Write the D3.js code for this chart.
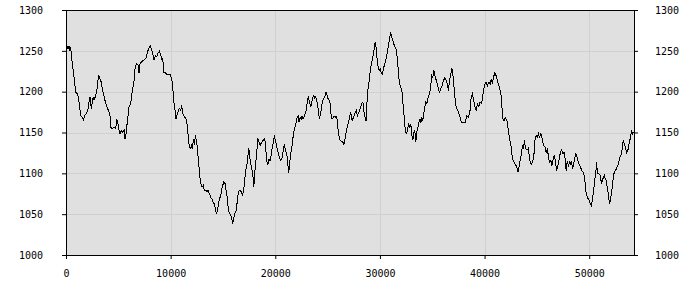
<!DOCTYPE html>
<html lang="en">
<head>
<meta charset="UTF-8">
<title>Series chart</title>
<script src="https://d3js.org/d3.v7.min.js"></script>
<style>
    body { margin: 0; background: #fff; }
    .tick text { font-family: "DejaVu Sans Mono", monospace; font-size: 10px; fill: #000; }
</style>
</head>
<body>
<script>

// x positions (sample number) and values
const xs = [
    0, 140, 240, 330, 400, 550, 720, 880, 1040, 1130, 1260, 1360, 1510, 1610, 1740, 1930, 2060, 2150, 2250, 2370,
    2470, 2560, 2630, 2790, 2890, 2950, 3080, 3200, 3330, 3420, 3580, 3710, 3840, 3900, 4000, 4160, 4230, 4380, 4540, 4700,
    4800, 4920, 5020, 5120, 5240, 5370, 5500, 5590, 5690, 5820, 5980, 6140, 6290, 6460, 6550, 6680, 6840, 6930, 7030, 7150,
    7340, 7570, 7670, 7790, 7990, 8110, 8240, 8370, 8490, 8630, 8750, 8870, 9010, 9100, 9200, 9290, 9445, 9580, 9895, 10060,
    10150, 10210, 10280, 10370, 10470, 10590, 10780, 10920, 11010, 11110, 11230, 11420, 11550, 11640, 11740, 11870, 11970, 12060, 12120, 12220,
    12310, 12450, 12540, 12640, 12730, 12830, 12950, 13080, 13170, 13310, 13400, 13530, 13650, 13790, 13910, 14030, 14130, 14230, 14320, 14420,
    14550, 14670, 14770, 14890, 15030, 15150, 15250, 15370, 15470, 15560, 15700, 15790, 15890, 15980, 16080, 16200, 16330, 16420, 16590, 16710,
    16840, 16900, 17000, 17090, 17230, 17320, 17420, 17540, 17670, 17800, 17900, 17990, 18090, 18180, 18280, 18400, 18500, 18660, 18810, 18950,
    19040, 19140, 19230, 19360, 19450, 19550, 19670, 19770, 19870, 19960, 20100, 20220, 20340, 20480, 20600, 20730, 20820, 20920, 21050, 21150,
    21240, 21340, 21430, 21560, 21650, 21750, 21840, 21940, 22040, 22130, 22230, 22320, 22420, 22510, 22610, 22730, 22870, 22960, 23020, 23120,
    23210, 23350, 23440, 23540, 23630, 23730, 23820, 23920, 24040, 24170, 24300, 24430, 24550, 24680, 24810, 24900, 25000, 25100, 25190, 25290,
    25380, 25480, 25570, 25670, 25760, 25860, 25950, 26050, 26150, 26270, 26400, 26500, 26600, 26690, 26790, 26910, 27040, 27170, 27290, 27420,
    27580, 27700, 27800, 27930, 28060, 28220, 28320, 28440, 28540, 28630, 28700, 28790, 28920, 29010, 29140, 29270, 29400, 29490, 29590, 29660,
    29780, 29880, 29970, 30070, 30190, 30290, 30420, 30540, 30670, 30760, 30860, 30990, 31090, 31180, 31280, 31380, 31500, 31620, 31720, 31820,
    31950, 32050, 32140, 32240, 32330, 32430, 32520, 32620, 32710, 32810, 32910, 33000, 33100, 33190, 33290, 33380, 33480, 33580, 33670, 33770,
    33860, 33960, 34050, 34150, 34240, 34340, 34440, 34530, 34630, 34720, 34820, 34910, 35010, 35110, 35200, 35300, 35390, 35510, 35640, 35770,
    35900, 36020, 36160, 36280, 36400, 36500, 36600, 36730, 36830, 36920, 37020, 37110, 37210, 37300, 37400, 37490, 37590, 37690, 37780, 37930,
    38090, 38260, 38410, 38570, 38670, 38790, 38890, 39020, 39150, 39270, 39410, 39530, 39660, 39750, 39850, 39980, 40110, 40230, 40360, 40490,
    40580, 40710, 40800, 40940, 41060, 41180, 41320, 41440, 41570, 41660, 41800, 41920, 42020, 42140, 42240, 42370, 42490, 42620, 42710, 42850,
    42970, 43070, 43160, 43260, 43350, 43480, 43570, 43670, 43770, 43860, 44000, 44120, 44220, 44310, 44440, 44570, 44690, 44790, 44880, 45010,
    45100, 45200, 45330, 45460, 45580, 45720, 45840, 45960, 46060, 46160, 46290, 46380, 46510, 46600, 46730, 46820, 46920, 47050, 47180, 47300,
    47440, 47560, 47660, 47750, 47850, 47970, 48070, 48160, 48260, 48350, 48450, 48550, 48680, 48770, 48870, 48990, 49120, 49250, 49380, 49470,
    49570, 49660, 49790, 49880, 50020, 50140, 50240, 50360, 50460, 50590, 50650, 50750, 50880, 51000, 51130, 51260, 51390, 51480, 51580, 51670,
    51800, 51890, 51990, 52120, 52220, 52310, 52440, 52560, 52660, 52750, 52850, 52980, 53080, 53200, 53300, 53390, 53520, 53650, 53770, 53900,
    53990, 54090, 54220
];
const values = [
    1259, 1253, 1257, 1251, 1255, 1235, 1218, 1200, 1198, 1194, 1182, 1171, 1169, 1166, 1171, 1175, 1180, 1188, 1194, 1180,
    1188, 1194, 1190, 1196, 1200, 1210, 1221, 1216, 1212, 1204, 1196, 1188, 1184, 1180, 1178, 1171, 1157, 1155, 1157, 1155,
    1167, 1161, 1153, 1149, 1153, 1151, 1154, 1143, 1149, 1165, 1182, 1186, 1202, 1214, 1229, 1235, 1233, 1224, 1235, 1237,
    1239, 1241, 1245, 1251, 1257, 1253, 1247, 1239, 1245, 1243, 1248, 1250, 1245, 1240, 1241, 1224, 1224, 1222, 1222, 1216,
    1206, 1196, 1186, 1178, 1167, 1174, 1180, 1178, 1184, 1174, 1171, 1167, 1159, 1145, 1133, 1131, 1135, 1131, 1143, 1135,
    1147, 1139, 1125, 1112, 1098, 1088, 1084, 1086, 1080, 1080, 1078, 1080, 1076, 1071, 1069, 1065, 1063, 1057, 1051, 1055,
    1065, 1071, 1076, 1084, 1090, 1088, 1080, 1071, 1055, 1053, 1049, 1045, 1039, 1045, 1051, 1055, 1067, 1078, 1080, 1078,
    1073, 1080, 1086, 1102, 1110, 1120, 1131, 1118, 1108, 1100, 1084, 1102, 1114, 1126, 1144, 1139, 1135, 1139, 1141, 1143,
    1131, 1116, 1111, 1118, 1116, 1122, 1133, 1139, 1147, 1141, 1133, 1126, 1120, 1116, 1120, 1129, 1137, 1129, 1125, 1112,
    1101, 1114, 1125, 1135, 1145, 1153, 1157, 1163, 1169, 1171, 1163, 1169, 1167, 1171, 1167, 1171, 1175, 1182, 1192, 1194,
    1188, 1182, 1188, 1194, 1196, 1192, 1194, 1190, 1180, 1167, 1175, 1186, 1192, 1194, 1200, 1196, 1192, 1190, 1186, 1171,
    1167, 1169, 1171, 1169, 1171, 1167, 1155, 1145, 1141, 1140, 1139, 1136, 1141, 1149, 1155, 1161, 1169, 1175, 1165, 1169,
    1175, 1178, 1171, 1175, 1180, 1186, 1188, 1175, 1169, 1165, 1184, 1202, 1214, 1224, 1235, 1243, 1253, 1261, 1255, 1243,
    1231, 1227, 1229, 1224, 1222, 1229, 1235, 1241, 1249, 1257, 1265, 1273, 1267, 1263, 1259, 1256, 1253, 1241, 1224, 1210,
    1206, 1202, 1188, 1174, 1159, 1151, 1149, 1157, 1161, 1157, 1161, 1147, 1141, 1151, 1153, 1139, 1151, 1157, 1163, 1167,
    1163, 1169, 1165, 1174, 1182, 1188, 1186, 1192, 1196, 1200, 1210, 1220, 1218, 1227, 1220, 1216, 1212, 1206, 1200, 1204,
    1208, 1214, 1218, 1214, 1210, 1202, 1214, 1222, 1229, 1222, 1208, 1194, 1184, 1180, 1178, 1174, 1171, 1165, 1163, 1163,
    1163, 1171, 1169, 1178, 1194, 1198, 1192, 1182, 1178, 1186, 1182, 1188, 1186, 1192, 1202, 1210, 1212, 1208, 1212, 1210,
    1216, 1210, 1218, 1224, 1220, 1214, 1208, 1202, 1194, 1169, 1165, 1169, 1167, 1163, 1151, 1141, 1133, 1118, 1116, 1112,
    1110, 1106, 1102, 1110, 1116, 1125, 1135, 1131, 1141, 1131, 1129, 1131, 1122, 1114, 1112, 1116, 1126, 1145, 1147, 1145,
    1149, 1145, 1149, 1143, 1135, 1133, 1126, 1131, 1120, 1114, 1116, 1110, 1118, 1122, 1116, 1104, 1108, 1116, 1125, 1129,
    1125, 1126, 1118, 1104, 1116, 1110, 1114, 1112, 1116, 1106, 1110, 1118, 1125, 1122, 1116, 1112, 1108, 1104, 1102, 1098,
    1088, 1076, 1071, 1069, 1065, 1061, 1067, 1078, 1090, 1102, 1114, 1100, 1100, 1098, 1088, 1094, 1098, 1094, 1092, 1084,
    1073, 1063, 1069, 1080, 1092, 1100, 1104, 1106, 1110, 1112, 1120, 1122, 1129, 1141, 1137, 1133, 1126, 1129, 1137, 1145,
    1153, 1149, 1151
];
const xTicks = [0, 10000, 20000, 30000, 40000, 50000];
const yTicks = [1000, 1050, 1100, 1150, 1200, 1250, 1300];

const data = xs.map((x, i) => ({ x: x, v: values[i] }));

const margin = { top: 10, left: 66, right: 66, bottom: 45 };
const width = 568, height = 245;

const svg = d3.select('body').append('svg')
    .attr('width', 700)
    .attr('height', 300);

const g = svg.append('g').attr('transform', `translate(${margin.left},${margin.top})`);

const x = d3.scaleLinear().domain([0, 54280]).range([0, width]);
const y = d3.scaleLinear().domain([1000, 1300]).range([height, 0]);

// plot background
g.append('rect')
    .attr('x', 0.5).attr('y', 0.5)
    .attr('width', width).attr('height', height)
    .attr('fill', '#e0e0e0');

// grid
g.append('g').selectAll('line.gx')
    .data(xTicks.slice(1))
    .join('line')
    .attr('x1', d => Math.round(x(d)) + 0.5).attr('x2', d => Math.round(x(d)) + 0.5)
    .attr('y1', 0).attr('y2', height)
    .attr('stroke', '#d0d0d0');
g.append('g').selectAll('line.gy')
    .data(yTicks.slice(1, -1))
    .join('line')
    .attr('x1', 0).attr('x2', width)
    .attr('y1', d => Math.round(y(d)) + 0.5).attr('y2', d => Math.round(y(d)) + 0.5)
    .attr('stroke', '#d0d0d0');

// series (aliased like the original)
const line = d3.line().x(d => x(d.x) + 0.5).y(d => y(d.v) + 0.5);
g.append('path')
    .datum(data)
    .attr('d', line)
    .attr('fill', 'none')
    .attr('stroke', '#000')
    .attr('stroke-width', 1)
    .attr('shape-rendering', 'crispEdges');

// frame top
g.append('line')
    .attr('x1', 0).attr('x2', width + 0.5)
    .attr('y1', 0.5).attr('y2', 0.5)
    .attr('stroke', '#000');

// axes
g.append('g')
    .attr('transform', `translate(0,${height})`)
    .call(d3.axisBottom(x).tickValues(xTicks).tickSize(4).tickSizeOuter(0).tickPadding(11).tickFormat(d3.format('d')));

g.append('g')
    .call(d3.axisLeft(y).tickValues(yTicks).tickSize(4).tickSizeOuter(0).tickPadding(19).tickFormat(d3.format('d')));

g.append('g')
    .attr('transform', `translate(${width},0)`)
    .call(d3.axisRight(y).tickValues(yTicks).tickSize(4).tickSizeOuter(0).tickPadding(17).tickFormat(d3.format('d')));

g.selectAll('.domain').attr('stroke', '#000');
g.selectAll('.tick line').attr('stroke', '#000');

</script>
</body>
</html>
